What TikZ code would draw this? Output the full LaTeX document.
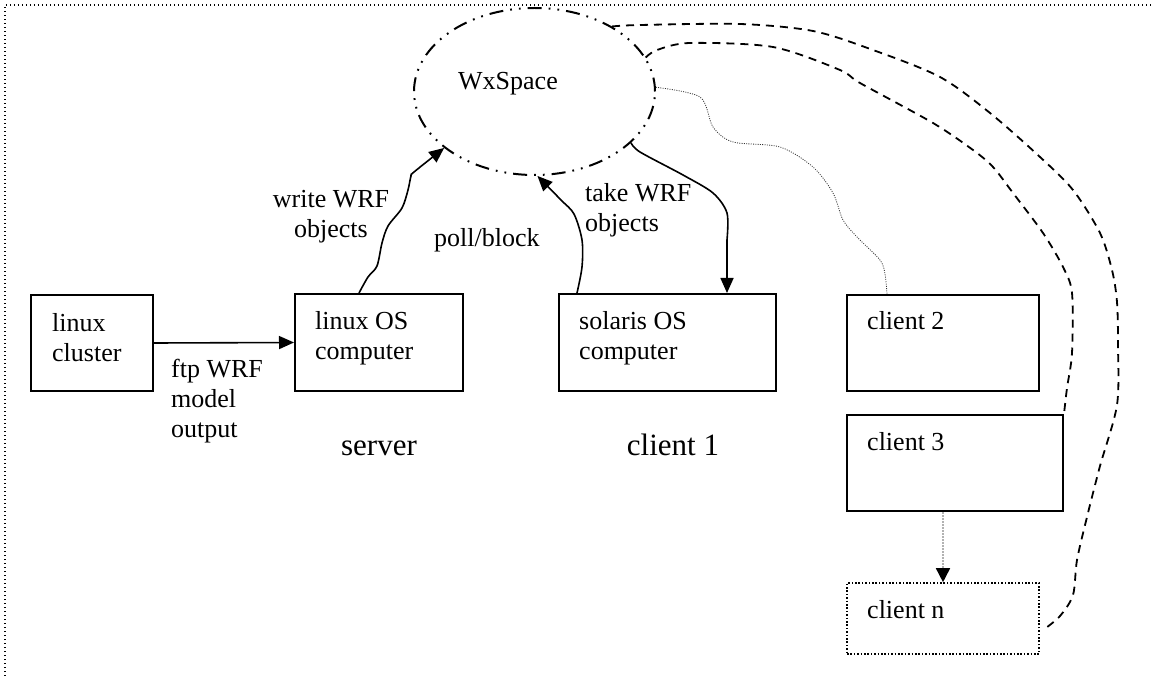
\documentclass[tikz,border=0pt]{standalone}
\usepackage{fontspec}
\setmainfont{Liberation Serif}
\usetikzlibrary{arrows.meta,shapes.geometric}
\tikzset{
  box/.style={draw, line width=2pt, rectangle, inner sep=0pt},
  dotbox/.style={draw, line width=1.6pt, rectangle, inner sep=0pt, dash pattern=on 1.6pt off 1.8pt},
  txt/.style={inner sep=0pt, anchor=base west, font=\fontsize{26}{30}\selectfont},
  bigtxt/.style={inner sep=0pt, anchor=base, font=\fontsize{31}{36}\selectfont},
  frameline/.style={line width=1.4pt, dash pattern=on 1.4pt off 2.6pt},
  conn/.style={line width=1.6pt, -{Triangle[length=15pt,width=13pt]}},
  dashconn/.style={line width=1.8pt, dash pattern=on 8pt off 6pt},
  thindot/.style={line width=0.8pt, black!80, dash pattern=on 1pt off 1.3pt},
  graydot/.style={line width=1.6pt, gray!60, dash pattern=on 1.6pt off 1.4pt, -{Triangle[length=14pt,width=14pt,black]}}
}
\begin{document}
\begin{tikzpicture}[x=1pt,y=-1pt]
\useasboundingbox (0,0) rectangle (1154,676);
\fill[white] (0,0) rectangle (1154,676);
% frame
\draw[frameline] (5,676) -- (5,5) -- (1154,5);

% WxSpace ellipse
\node[ellipse, draw, line width=2pt, minimum width=241pt, minimum height=167pt, inner sep=0pt,
      dash pattern=on 14pt off 7pt on 1.8pt off 7pt on 1.8pt off 7pt] (ws) at (534.5,91.5) {};
\node[txt] (wst) at (458,90) {WxSpace};

% boxes
\node[box, minimum width=122pt, minimum height=96pt] (lc) at (92,343) {};
\node[box, minimum width=168pt, minimum height=97pt] (los) at (379,342.5) {};
\node[box, minimum width=217pt, minimum height=97pt] (sol) at (667.5,342.5) {};
\node[box, minimum width=192pt, minimum height=96pt] (c2) at (943,343) {};
\node[box, minimum width=216pt, minimum height=96pt] (c3) at (955,463) {};
\node[dotbox, minimum width=192pt, minimum height=71pt] (cn) at (943,618.5) {};

% box texts
\node[txt] (lct) at (52,331) {\begin{tabular}[t]{@{}l@{}}linux\\cluster\end{tabular}};
\node[txt] (lost) at (315,330) {\begin{tabular}[t]{@{}l@{}}linux OS\\computer\end{tabular}};
\node[txt] (solt) at (579,330) {\begin{tabular}[t]{@{}l@{}}solaris OS\\computer\end{tabular}};
\node[txt] (c2t) at (867,330) {client 2};
\node[txt] (c3t) at (867,450) {client 3};
\node[txt] (cnt) at (867,618) {client n};

% captions
\node[bigtxt] (srv) at (379,455) {server};
\node[bigtxt] (cl1) at (673,455) {client 1};

% edge labels
\node[txt] (ftp) at (171,377) {\begin{tabular}[t]{@{}l@{}}ftp WRF\\model\\output\end{tabular}};
\node[txt, anchor=base] (wr) at (331,208) {\begin{tabular}[t]{@{}c@{}}write WRF\\objects\end{tabular}};
\node[txt] (pb) at (434,247) {poll/block};
\node[txt] (tk) at (585,202) {\begin{tabular}[t]{@{}l@{}}take WRF\\objects\end{tabular}};

% connectors
\draw[conn] (lc.east) -- (los.west);
\draw[conn] plot[smooth, tension=0.5] coordinates {([xshift=-20pt]los.north) (368,277) (377,266) (382,243) (388,226) (402,208) (408,190) (411,176) (414,172) (ws.212)};
\draw[conn] plot[smooth, tension=0.5] coordinates {([xshift=-90.5pt]sol.north) (582,267) (582,240) (574,214) (561,200) (ws.272)};
\draw[conn] plot[smooth, tension=0.5] coordinates {(ws.332) (640,152) (683,175) (713,193) (727,213) ([xshift=59.5pt,yshift=53pt]sol.north)} -- ([xshift=59.5pt]sol.north);
\draw[thindot] plot[smooth, tension=0.5] coordinates {(ws.2) (700,97) (713,127) (733,142) (780,147) (813,167) (833,193) (843,220) (857,237) (880,260) (885,274) ([xshift=-56pt]c2.north)};
\draw[dashconn] plot[smooth, tension=0.5] coordinates {(ws.40) (640,25) (740,24) (813,31) (873,50) (940,77) (990,113) (1040,157) (1073,190) (1100,233) (1112,270) (1117,302) (1118,345) (1117,405) (1100,466) (1087,517) (1077,560) (1073,595) (1060,616) ([yshift=-11pt,xshift=4pt]cn.east)};
\draw[dashconn] plot[smooth, tension=0.5] coordinates {(ws.17) (657,50) (690,43) (773,47) (840,70) (860,83) (933,123) (973,150) (993,167) (1013,193) (1043,233) (1063,267) (1072,293) (1072,353) (1067,388) (c3.north east)};
\draw[graydot] (c3.south -| cn.north) -- (cn.north);
\end{tikzpicture}
\end{document}
